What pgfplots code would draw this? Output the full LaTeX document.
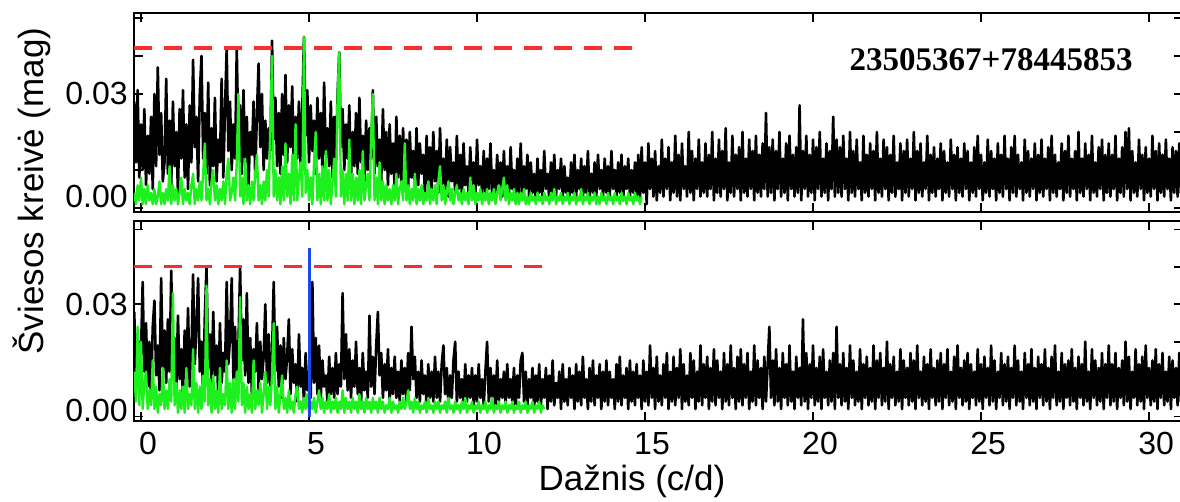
\documentclass[border=0pt]{standalone}
\usepackage{fontspec}
\setmainfont{Liberation Sans}
\newfontfamily\serifb{Liberation Serif}
\usepackage{pgfplots}
\usepackage{pgfplotstable}
\pgfplotsset{compat=1.18}
\definecolor{pgreen}{RGB}{30,240,30}
\definecolor{pred}{RGB}{250,45,45}
\definecolor{pblue}{RGB}{25,75,235}

% amplitude spectra, one value every 0.05 c/d starting at -0.2 c/d
\pgfplotstableread[row sep=\\]{
y\\
0.028\\ 0.012\\ 0.031\\ 0.008\\ 0.022\\ 0.010\\ 0.026\\ 0.006\\ 0.019\\ 0.009\\ 0.024\\ 0.005\\ 0.030\\ 0.011\\ 0.037\\ 0.014\\ 0.025\\ 0.007\\ 0.012\\ 0.034\\
0.009\\ 0.023\\ 0.006\\ 0.028\\ 0.011\\ 0.020\\ 0.004\\ 0.026\\ 0.013\\ 0.031\\ 0.008\\ 0.022\\ 0.005\\ 0.027\\ 0.012\\ 0.039\\ 0.016\\ 0.024\\ 0.007\\ 0.030\\
0.040\\ 0.013\\ 0.025\\ 0.009\\ 0.033\\ 0.006\\ 0.021\\ 0.011\\ 0.029\\ 0.007\\ 0.018\\ 0.012\\ 0.034\\ 0.008\\ 0.026\\ 0.042\\ 0.015\\ 0.028\\ 0.010\\ 0.022\\
0.013\\ 0.042\\ 0.017\\ 0.027\\ 0.009\\ 0.031\\ 0.012\\ 0.024\\ 0.006\\ 0.020\\ 0.014\\ 0.028\\ 0.008\\ 0.025\\ 0.038\\ 0.016\\ 0.030\\ 0.010\\ 0.023\\ 0.013\\
0.021\\ 0.015\\ 0.044\\ 0.018\\ 0.029\\ 0.011\\ 0.025\\ 0.009\\ 0.030\\ 0.014\\ 0.035\\ 0.012\\ 0.027\\ 0.016\\ 0.032\\ 0.010\\ 0.024\\ 0.013\\ 0.028\\ 0.011\\
0.026\\ 0.045\\ 0.019\\ 0.031\\ 0.012\\ 0.027\\ 0.015\\ 0.023\\ 0.009\\ 0.029\\ 0.013\\ 0.025\\ 0.010\\ 0.033\\ 0.014\\ 0.021\\ 0.011\\ 0.028\\ 0.008\\ 0.024\\
0.012\\ 0.030\\ 0.041\\ 0.016\\ 0.026\\ 0.010\\ 0.022\\ 0.013\\ 0.027\\ 0.008\\ 0.020\\ 0.011\\ 0.025\\ 0.009\\ 0.029\\ 0.012\\ 0.019\\ 0.007\\ 0.023\\ 0.010\\
0.021\\ 0.013\\ 0.031\\ 0.009\\ 0.024\\ 0.011\\ 0.018\\ 0.007\\ 0.026\\ 0.010\\ 0.020\\ 0.006\\ 0.022\\ 0.009\\ 0.017\\ 0.005\\ 0.024\\ 0.008\\ 0.019\\ 0.006\\
0.021\\ 0.007\\ 0.018\\ 0.005\\ 0.020\\ 0.008\\ 0.015\\ 0.004\\ 0.021\\ 0.006\\ 0.017\\ 0.009\\ 0.014\\ 0.004\\ 0.019\\ 0.006\\ 0.016\\ 0.005\\ 0.020\\ 0.007\\
0.015\\ 0.004\\ 0.021\\ 0.006\\ 0.013\\ 0.005\\ 0.018\\ 0.003\\ 0.016\\ 0.007\\ 0.012\\ 0.004\\ 0.019\\ 0.005\\ 0.014\\ 0.003\\ 0.017\\ 0.006\\ 0.011\\ 0.004\\
0.016\\ 0.005\\ 0.012\\ 0.003\\ 0.018\\ 0.006\\ 0.011\\ 0.004\\ 0.015\\ 0.003\\ 0.013\\ 0.005\\ 0.017\\ 0.004\\ 0.010\\ 0.003\\ 0.014\\ 0.006\\ 0.012\\ 0.003\\
0.015\\ 0.004\\ 0.011\\ 0.003\\ 0.016\\ 0.005\\ 0.010\\ 0.002\\ 0.013\\ 0.004\\ 0.017\\ 0.003\\ 0.011\\ 0.005\\ 0.014\\ 0.003\\ 0.012\\ 0.004\\ 0.009\\ 0.002\\
0.013\\ 0.004\\ 0.010\\ 0.003\\ 0.015\\ 0.005\\ 0.009\\ 0.002\\ 0.012\\ 0.004\\ 0.014\\ 0.003\\ 0.010\\ 0.005\\ 0.013\\ 0.003\\ 0.011\\ 0.004\\ 0.008\\ 0.002\\
0.012\\ 0.004\\ 0.014\\ 0.003\\ 0.010\\ 0.005\\ 0.013\\ 0.002\\ 0.011\\ 0.004\\ 0.015\\ 0.003\\ 0.009\\ 0.004\\ 0.012\\ 0.003\\ 0.014\\ 0.005\\ 0.010\\ 0.003\\
0.013\\ 0.004\\ 0.011\\ 0.003\\ 0.015\\ 0.005\\ 0.010\\ 0.003\\ 0.012\\ 0.004\\ 0.014\\ 0.002\\ 0.011\\ 0.005\\ 0.013\\ 0.003\\ 0.010\\ 0.004\\ 0.012\\ 0.003\\
0.014\\ 0.002\\ 0.016\\ 0.004\\ 0.012\\ 0.001\\ 0.017\\ 0.005\\ 0.013\\ 0.003\\ 0.015\\ 0.002\\ 0.011\\ 0.004\\ 0.018\\ 0.003\\ 0.013\\ 0.005\\ 0.016\\ 0.002\\
0.012\\ 0.004\\ 0.019\\ 0.003\\ 0.014\\ 0.002\\ 0.017\\ 0.005\\ 0.011\\ 0.003\\ 0.020\\ 0.004\\ 0.015\\ 0.002\\ 0.013\\ 0.005\\ 0.018\\ 0.003\\ 0.012\\ 0.004\\
0.017\\ 0.003\\ 0.014\\ 0.005\\ 0.020\\ 0.002\\ 0.013\\ 0.004\\ 0.018\\ 0.003\\ 0.015\\ 0.005\\ 0.021\\ 0.002\\ 0.012\\ 0.004\\ 0.019\\ 0.003\\ 0.014\\ 0.005\\
0.016\\ 0.002\\ 0.020\\ 0.004\\ 0.013\\ 0.003\\ 0.018\\ 0.005\\ 0.015\\ 0.002\\ 0.019\\ 0.004\\ 0.014\\ 0.003\\ 0.017\\ 0.005\\ 0.025\\ 0.003\\ 0.016\\ 0.004\\
0.018\\ 0.002\\ 0.015\\ 0.005\\ 0.020\\ 0.003\\ 0.013\\ 0.004\\ 0.017\\ 0.002\\ 0.019\\ 0.005\\ 0.014\\ 0.003\\ 0.016\\ 0.004\\ 0.027\\ 0.002\\ 0.015\\ 0.005\\
0.019\\ 0.003\\ 0.014\\ 0.004\\ 0.018\\ 0.002\\ 0.016\\ 0.005\\ 0.020\\ 0.003\\ 0.013\\ 0.004\\ 0.017\\ 0.002\\ 0.015\\ 0.005\\ 0.024\\ 0.003\\ 0.018\\ 0.004\\
0.016\\ 0.003\\ 0.019\\ 0.005\\ 0.013\\ 0.002\\ 0.020\\ 0.004\\ 0.015\\ 0.003\\ 0.018\\ 0.005\\ 0.012\\ 0.002\\ 0.019\\ 0.004\\ 0.014\\ 0.003\\ 0.017\\ 0.005\\
0.015\\ 0.002\\ 0.020\\ 0.004\\ 0.013\\ 0.003\\ 0.018\\ 0.005\\ 0.016\\ 0.002\\ 0.014\\ 0.004\\ 0.019\\ 0.003\\ 0.012\\ 0.005\\ 0.017\\ 0.002\\ 0.015\\ 0.004\\
0.018\\ 0.003\\ 0.013\\ 0.005\\ 0.020\\ 0.002\\ 0.015\\ 0.004\\ 0.017\\ 0.003\\ 0.012\\ 0.005\\ 0.019\\ 0.002\\ 0.014\\ 0.004\\ 0.016\\ 0.003\\ 0.013\\ 0.005\\
0.017\\ 0.002\\ 0.015\\ 0.004\\ 0.012\\ 0.003\\ 0.018\\ 0.005\\ 0.014\\ 0.002\\ 0.016\\ 0.004\\ 0.013\\ 0.003\\ 0.017\\ 0.005\\ 0.015\\ 0.002\\ 0.012\\ 0.004\\
0.016\\ 0.003\\ 0.019\\ 0.005\\ 0.014\\ 0.002\\ 0.012\\ 0.004\\ 0.018\\ 0.003\\ 0.015\\ 0.005\\ 0.013\\ 0.002\\ 0.017\\ 0.004\\ 0.014\\ 0.003\\ 0.019\\ 0.005\\
0.013\\ 0.002\\ 0.016\\ 0.004\\ 0.019\\ 0.003\\ 0.014\\ 0.005\\ 0.012\\ 0.002\\ 0.018\\ 0.004\\ 0.015\\ 0.003\\ 0.013\\ 0.005\\ 0.017\\ 0.002\\ 0.014\\ 0.004\\
0.018\\ 0.003\\ 0.013\\ 0.005\\ 0.016\\ 0.002\\ 0.019\\ 0.004\\ 0.014\\ 0.003\\ 0.012\\ 0.005\\ 0.017\\ 0.002\\ 0.015\\ 0.004\\ 0.019\\ 0.003\\ 0.013\\ 0.005\\
0.015\\ 0.002\\ 0.020\\ 0.004\\ 0.013\\ 0.003\\ 0.017\\ 0.005\\ 0.014\\ 0.002\\ 0.019\\ 0.004\\ 0.012\\ 0.003\\ 0.016\\ 0.005\\ 0.018\\ 0.002\\ 0.014\\ 0.004\\
0.017\\ 0.003\\ 0.014\\ 0.005\\ 0.019\\ 0.002\\ 0.013\\ 0.004\\ 0.016\\ 0.003\\ 0.020\\ 0.005\\ 0.021\\ 0.002\\ 0.015\\ 0.004\\ 0.012\\ 0.003\\ 0.018\\ 0.005\\
0.014\\ 0.002\\ 0.016\\ 0.004\\ 0.013\\ 0.003\\ 0.019\\ 0.005\\ 0.015\\ 0.002\\ 0.017\\ 0.004\\ 0.014\\ 0.003\\ 0.018\\ 0.005\\ 0.013\\ 0.002\\ 0.016\\ 0.004\\
0.015\\ 0.003\\ 0.017\\ 0.004\\ 0.012\\
}\topblack

\pgfplotstableread[row sep=\\]{
y\\
0.004\\ 0.001\\ 0.006\\ 0.002\\ 0.008\\ 0.001\\ 0.005\\ 0.001\\ 0.006\\ 0.002\\ 0.004\\ 0.001\\ 0.005\\ 0.001\\ 0.003\\ 0.007\\ 0.001\\ 0.004\\ 0.001\\ 0.005\\
0.002\\ 0.011\\ 0.001\\ 0.006\\ 0.002\\ 0.005\\ 0.001\\ 0.004\\ 0.008\\ 0.001\\ 0.005\\ 0.002\\ 0.004\\ 0.001\\ 0.006\\ 0.009\\ 0.001\\ 0.005\\ 0.002\\ 0.007\\
0.002\\ 0.009\\ 0.017\\ 0.002\\ 0.005\\ 0.001\\ 0.007\\ 0.010\\ 0.002\\ 0.006\\ 0.001\\ 0.005\\ 0.002\\ 0.007\\ 0.001\\ 0.009\\ 0.013\\ 0.002\\ 0.004\\ 0.008\\
0.002\\ 0.012\\ 0.030\\ 0.003\\ 0.008\\ 0.001\\ 0.013\\ 0.002\\ 0.006\\ 0.001\\ 0.007\\ 0.002\\ 0.009\\ 0.014\\ 0.002\\ 0.006\\ 0.001\\ 0.007\\ 0.002\\ 0.010\\
0.003\\ 0.022\\ 0.040\\ 0.003\\ 0.010\\ 0.002\\ 0.008\\ 0.001\\ 0.011\\ 0.002\\ 0.017\\ 0.003\\ 0.009\\ 0.001\\ 0.014\\ 0.002\\ 0.022\\ 0.002\\ 0.008\\ 0.012\\
0.003\\ 0.045\\ 0.004\\ 0.010\\ 0.002\\ 0.008\\ 0.001\\ 0.012\\ 0.020\\ 0.002\\ 0.009\\ 0.001\\ 0.011\\ 0.002\\ 0.015\\ 0.002\\ 0.010\\ 0.001\\ 0.007\\ 0.013\\
0.003\\ 0.029\\ 0.041\\ 0.003\\ 0.010\\ 0.001\\ 0.009\\ 0.002\\ 0.018\\ 0.002\\ 0.009\\ 0.001\\ 0.008\\ 0.002\\ 0.010\\ 0.001\\ 0.015\\ 0.002\\ 0.006\\ 0.009\\
0.002\\ 0.019\\ 0.030\\ 0.002\\ 0.008\\ 0.001\\ 0.012\\ 0.002\\ 0.007\\ 0.001\\ 0.006\\ 0.002\\ 0.005\\ 0.001\\ 0.006\\ 0.002\\ 0.009\\ 0.001\\ 0.005\\ 0.007\\
0.002\\ 0.017\\ 0.002\\ 0.006\\ 0.001\\ 0.005\\ 0.002\\ 0.009\\ 0.001\\ 0.005\\ 0.002\\ 0.006\\ 0.001\\ 0.004\\ 0.002\\ 0.007\\ 0.001\\ 0.005\\ 0.002\\ 0.006\\
0.001\\ 0.007\\ 0.011\\ 0.002\\ 0.006\\ 0.001\\ 0.004\\ 0.007\\ 0.002\\ 0.005\\ 0.001\\ 0.004\\ 0.006\\ 0.002\\ 0.004\\ 0.001\\ 0.005\\ 0.002\\ 0.004\\ 0.001\\
0.008\\ 0.002\\ 0.006\\ 0.001\\ 0.004\\ 0.002\\ 0.005\\ 0.001\\ 0.004\\ 0.002\\ 0.005\\ 0.001\\ 0.004\\ 0.002\\ 0.005\\ 0.001\\ 0.004\\ 0.006\\ 0.002\\ 0.005\\
0.008\\ 0.002\\ 0.006\\ 0.001\\ 0.004\\ 0.002\\ 0.005\\ 0.001\\ 0.004\\ 0.001\\ 0.004\\ 0.002\\ 0.005\\ 0.001\\ 0.003\\ 0.001\\ 0.004\\ 0.002\\ 0.003\\ 0.001\\
0.004\\ 0.002\\ 0.003\\ 0.001\\ 0.004\\ 0.002\\ 0.003\\ 0.001\\ 0.004\\ 0.002\\ 0.005\\ 0.001\\ 0.003\\ 0.002\\ 0.004\\ 0.001\\ 0.003\\ 0.002\\ 0.004\\ 0.001\\
0.003\\ 0.002\\ 0.004\\ 0.001\\ 0.003\\ 0.002\\ 0.005\\ 0.001\\ 0.003\\ 0.002\\ 0.004\\ 0.001\\ 0.003\\ 0.002\\ 0.004\\ 0.001\\ 0.003\\ 0.001\\ 0.004\\ 0.002\\
0.003\\ 0.001\\ 0.004\\ 0.002\\ 0.003\\ 0.001\\ 0.004\\ 0.002\\ 0.003\\ 0.001\\ 0.004\\ 0.002\\ 0.003\\ 0.001\\ 0.004\\ 0.002\\ 0.003\\ 0.001\\ 0.004\\ 0.002\\
0.003\\ 0.001\\ 0.003\\
}\topgreen

\pgfplotstableread[row sep=\\]{
y\\
0.028\\ 0.010\\ 0.022\\ 0.006\\ 0.017\\ 0.036\\ 0.012\\ 0.025\\ 0.008\\ 0.020\\ 0.005\\ 0.024\\ 0.031\\ 0.011\\ 0.019\\ 0.007\\ 0.037\\ 0.013\\ 0.023\\ 0.009\\
0.026\\ 0.012\\ 0.039\\ 0.015\\ 0.021\\ 0.007\\ 0.027\\ 0.010\\ 0.018\\ 0.005\\ 0.023\\ 0.011\\ 0.029\\ 0.008\\ 0.016\\ 0.038\\ 0.014\\ 0.024\\ 0.037\\ 0.012\\
0.020\\ 0.006\\ 0.027\\ 0.040\\ 0.013\\ 0.022\\ 0.008\\ 0.028\\ 0.011\\ 0.019\\ 0.005\\ 0.025\\ 0.009\\ 0.017\\ 0.012\\ 0.036\\ 0.014\\ 0.021\\ 0.037\\ 0.010\\
0.024\\ 0.008\\ 0.019\\ 0.040\\ 0.015\\ 0.026\\ 0.011\\ 0.033\\ 0.009\\ 0.021\\ 0.006\\ 0.018\\ 0.012\\ 0.025\\ 0.007\\ 0.020\\ 0.010\\ 0.016\\ 0.030\\ 0.009\\
0.022\\ 0.007\\ 0.017\\ 0.036\\ 0.012\\ 0.024\\ 0.008\\ 0.019\\ 0.005\\ 0.021\\ 0.010\\ 0.016\\ 0.026\\ 0.006\\ 0.018\\ 0.009\\ 0.014\\ 0.004\\ 0.022\\ 0.008\\
0.013\\ 0.004\\ 0.017\\ 0.007\\ 0.012\\ 0.005\\ 0.036\\ 0.009\\ 0.021\\ 0.006\\ 0.019\\ 0.005\\ 0.015\\ 0.008\\ 0.011\\ 0.004\\ 0.016\\ 0.006\\ 0.013\\ 0.005\\
0.017\\ 0.006\\ 0.014\\ 0.008\\ 0.033\\ 0.010\\ 0.022\\ 0.007\\ 0.018\\ 0.005\\ 0.015\\ 0.008\\ 0.020\\ 0.006\\ 0.013\\ 0.004\\ 0.017\\ 0.007\\ 0.012\\ 0.005\\
0.027\\ 0.008\\ 0.016\\ 0.006\\ 0.019\\ 0.028\\ 0.011\\ 0.017\\ 0.005\\ 0.014\\ 0.007\\ 0.018\\ 0.004\\ 0.013\\ 0.006\\ 0.016\\ 0.005\\ 0.012\\ 0.004\\ 0.015\\
0.006\\ 0.013\\ 0.004\\ 0.017\\ 0.007\\ 0.024\\ 0.010\\ 0.016\\ 0.005\\ 0.012\\ 0.004\\ 0.015\\ 0.006\\ 0.011\\ 0.003\\ 0.014\\ 0.005\\ 0.012\\ 0.004\\ 0.016\\
0.005\\ 0.012\\ 0.004\\ 0.014\\ 0.019\\ 0.006\\ 0.013\\ 0.003\\ 0.011\\ 0.005\\ 0.015\\ 0.020\\ 0.004\\ 0.012\\ 0.005\\ 0.010\\ 0.003\\ 0.014\\ 0.004\\ 0.011\\
0.005\\ 0.013\\ 0.003\\ 0.011\\ 0.004\\ 0.014\\ 0.005\\ 0.010\\ 0.003\\ 0.012\\ 0.020\\ 0.004\\ 0.013\\ 0.005\\ 0.011\\ 0.003\\ 0.015\\ 0.004\\ 0.010\\ 0.005\\
0.012\\ 0.003\\ 0.014\\ 0.005\\ 0.010\\ 0.004\\ 0.013\\ 0.002\\ 0.011\\ 0.005\\ 0.015\\ 0.017\\ 0.004\\ 0.012\\ 0.003\\ 0.010\\ 0.005\\ 0.013\\ 0.002\\ 0.011\\
0.004\\ 0.014\\ 0.003\\ 0.010\\ 0.005\\ 0.013\\ 0.002\\ 0.011\\ 0.004\\ 0.015\\ 0.003\\ 0.009\\ 0.005\\ 0.012\\ 0.002\\ 0.014\\ 0.004\\ 0.010\\ 0.003\\ 0.013\\
0.005\\ 0.011\\ 0.002\\ 0.014\\ 0.004\\ 0.012\\ 0.003\\ 0.016\\ 0.005\\ 0.010\\ 0.002\\ 0.013\\ 0.004\\ 0.015\\ 0.003\\ 0.011\\ 0.005\\ 0.014\\ 0.002\\ 0.012\\
0.004\\ 0.015\\ 0.003\\ 0.012\\ 0.005\\ 0.010\\ 0.002\\ 0.014\\ 0.004\\ 0.016\\ 0.003\\ 0.011\\ 0.005\\ 0.013\\ 0.002\\ 0.015\\ 0.004\\ 0.012\\ 0.003\\ 0.014\\
0.005\\ 0.011\\ 0.002\\ 0.015\\ 0.004\\ 0.012\\ 0.003\\ 0.019\\ 0.005\\ 0.013\\ 0.002\\ 0.016\\ 0.004\\ 0.011\\ 0.003\\ 0.014\\ 0.005\\ 0.017\\ 0.002\\ 0.012\\
0.004\\ 0.016\\ 0.003\\ 0.013\\ 0.005\\ 0.018\\ 0.002\\ 0.014\\ 0.004\\ 0.011\\ 0.003\\ 0.017\\ 0.005\\ 0.015\\ 0.002\\ 0.012\\ 0.004\\ 0.019\\ 0.003\\ 0.014\\
0.005\\ 0.016\\ 0.002\\ 0.013\\ 0.004\\ 0.018\\ 0.003\\ 0.015\\ 0.005\\ 0.012\\ 0.002\\ 0.017\\ 0.004\\ 0.014\\ 0.003\\ 0.019\\ 0.005\\ 0.013\\ 0.002\\ 0.016\\
0.004\\ 0.018\\ 0.003\\ 0.014\\ 0.005\\ 0.017\\ 0.002\\ 0.012\\ 0.004\\ 0.019\\ 0.003\\ 0.015\\ 0.005\\ 0.013\\ 0.002\\ 0.016\\ 0.004\\ 0.014\\ 0.024\\ 0.005\\
0.015\\ 0.003\\ 0.018\\ 0.004\\ 0.013\\ 0.002\\ 0.017\\ 0.005\\ 0.014\\ 0.003\\ 0.019\\ 0.004\\ 0.012\\ 0.002\\ 0.016\\ 0.005\\ 0.013\\ 0.003\\ 0.026\\ 0.004\\
0.017\\ 0.002\\ 0.014\\ 0.005\\ 0.019\\ 0.003\\ 0.013\\ 0.004\\ 0.016\\ 0.002\\ 0.018\\ 0.005\\ 0.012\\ 0.003\\ 0.015\\ 0.004\\ 0.017\\ 0.002\\ 0.024\\ 0.005\\
0.014\\ 0.003\\ 0.017\\ 0.004\\ 0.013\\ 0.002\\ 0.019\\ 0.005\\ 0.015\\ 0.003\\ 0.012\\ 0.004\\ 0.018\\ 0.002\\ 0.014\\ 0.005\\ 0.016\\ 0.003\\ 0.013\\ 0.004\\
0.019\\ 0.002\\ 0.015\\ 0.005\\ 0.017\\ 0.003\\ 0.013\\ 0.004\\ 0.020\\ 0.002\\ 0.014\\ 0.005\\ 0.016\\ 0.003\\ 0.012\\ 0.004\\ 0.018\\ 0.002\\ 0.015\\ 0.005\\
0.013\\ 0.003\\ 0.017\\ 0.004\\ 0.015\\ 0.002\\ 0.019\\ 0.005\\ 0.012\\ 0.003\\ 0.016\\ 0.004\\ 0.014\\ 0.002\\ 0.018\\ 0.005\\ 0.013\\ 0.003\\ 0.015\\ 0.004\\
0.017\\ 0.002\\ 0.014\\ 0.005\\ 0.018\\ 0.003\\ 0.012\\ 0.004\\ 0.016\\ 0.002\\ 0.019\\ 0.005\\ 0.013\\ 0.003\\ 0.015\\ 0.004\\ 0.017\\ 0.002\\ 0.014\\ 0.005\\
0.012\\ 0.003\\ 0.018\\ 0.004\\ 0.014\\ 0.002\\ 0.016\\ 0.005\\ 0.013\\ 0.003\\ 0.019\\ 0.004\\ 0.015\\ 0.002\\ 0.012\\ 0.005\\ 0.017\\ 0.003\\ 0.014\\ 0.004\\
0.016\\ 0.002\\ 0.013\\ 0.005\\ 0.019\\ 0.003\\ 0.015\\ 0.004\\ 0.012\\ 0.002\\ 0.017\\ 0.005\\ 0.014\\ 0.003\\ 0.018\\ 0.004\\ 0.013\\ 0.002\\ 0.016\\ 0.005\\
0.014\\ 0.003\\ 0.018\\ 0.004\\ 0.013\\ 0.002\\ 0.016\\ 0.005\\ 0.019\\ 0.003\\ 0.012\\ 0.004\\ 0.017\\ 0.002\\ 0.014\\ 0.005\\ 0.015\\ 0.003\\ 0.018\\ 0.004\\
0.013\\ 0.002\\ 0.016\\ 0.005\\ 0.014\\ 0.003\\ 0.020\\ 0.004\\ 0.012\\ 0.002\\ 0.018\\ 0.005\\ 0.015\\ 0.003\\ 0.013\\ 0.004\\ 0.017\\ 0.002\\ 0.014\\ 0.005\\
0.019\\ 0.003\\ 0.014\\ 0.004\\ 0.017\\ 0.002\\ 0.013\\ 0.005\\ 0.015\\ 0.003\\ 0.020\\ 0.004\\ 0.016\\ 0.002\\ 0.012\\ 0.005\\ 0.018\\ 0.003\\ 0.014\\ 0.004\\
0.016\\ 0.002\\ 0.019\\ 0.005\\ 0.013\\ 0.003\\ 0.015\\ 0.004\\ 0.018\\ 0.002\\ 0.014\\ 0.005\\ 0.017\\ 0.003\\ 0.012\\ 0.004\\ 0.016\\ 0.002\\ 0.015\\ 0.005\\
0.013\\ 0.003\\ 0.017\\ 0.004\\ 0.014\\
}\botblack

\pgfplotstableread[row sep=\\]{
y\\
0.012\\ 0.004\\ 0.024\\ 0.003\\ 0.020\\ 0.002\\ 0.009\\ 0.012\\ 0.002\\ 0.007\\ 0.003\\ 0.015\\ 0.002\\ 0.008\\ 0.001\\ 0.006\\ 0.003\\ 0.013\\ 0.002\\ 0.007\\
0.002\\ 0.010\\ 0.004\\ 0.033\\ 0.003\\ 0.009\\ 0.001\\ 0.007\\ 0.002\\ 0.008\\ 0.001\\ 0.013\\ 0.002\\ 0.006\\ 0.003\\ 0.018\\ 0.002\\ 0.009\\ 0.001\\ 0.008\\
0.002\\ 0.011\\ 0.004\\ 0.035\\ 0.003\\ 0.010\\ 0.001\\ 0.011\\ 0.002\\ 0.007\\ 0.001\\ 0.013\\ 0.002\\ 0.006\\ 0.003\\ 0.015\\ 0.002\\ 0.009\\ 0.001\\ 0.010\\
0.002\\ 0.012\\ 0.004\\ 0.032\\ 0.003\\ 0.009\\ 0.001\\ 0.008\\ 0.002\\ 0.006\\ 0.001\\ 0.015\\ 0.002\\ 0.007\\ 0.003\\ 0.009\\ 0.001\\ 0.006\\ 0.012\\ 0.002\\
0.008\\ 0.003\\ 0.011\\ 0.025\\ 0.002\\ 0.008\\ 0.001\\ 0.006\\ 0.011\\ 0.002\\ 0.005\\ 0.001\\ 0.007\\ 0.002\\ 0.004\\ 0.001\\ 0.006\\ 0.008\\ 0.002\\ 0.004\\
0.001\\ 0.005\\ 0.002\\ 0.006\\ 0.001\\ 0.004\\ 0.002\\ 0.005\\ 0.001\\ 0.004\\ 0.007\\ 0.002\\ 0.005\\ 0.001\\ 0.004\\ 0.002\\ 0.006\\ 0.001\\ 0.004\\ 0.002\\
0.005\\ 0.001\\ 0.004\\ 0.002\\ 0.007\\ 0.001\\ 0.005\\ 0.002\\ 0.004\\ 0.001\\ 0.005\\ 0.002\\ 0.004\\ 0.001\\ 0.006\\ 0.002\\ 0.004\\ 0.001\\ 0.005\\ 0.002\\
0.004\\ 0.001\\ 0.005\\ 0.002\\ 0.004\\ 0.001\\ 0.005\\ 0.002\\ 0.004\\ 0.001\\ 0.003\\ 0.002\\ 0.005\\ 0.001\\ 0.004\\ 0.002\\ 0.003\\ 0.001\\ 0.004\\ 0.002\\
0.005\\ 0.002\\ 0.004\\ 0.007\\ 0.002\\ 0.004\\ 0.001\\ 0.005\\ 0.002\\ 0.004\\ 0.001\\ 0.003\\ 0.002\\ 0.004\\ 0.001\\ 0.005\\ 0.002\\ 0.003\\ 0.001\\ 0.004\\
0.002\\ 0.004\\ 0.001\\ 0.003\\ 0.002\\ 0.004\\ 0.001\\ 0.005\\ 0.002\\ 0.003\\ 0.001\\ 0.004\\ 0.002\\ 0.003\\ 0.001\\ 0.004\\ 0.002\\ 0.005\\ 0.001\\ 0.003\\
0.002\\ 0.004\\ 0.001\\ 0.003\\ 0.002\\ 0.004\\ 0.001\\ 0.003\\ 0.002\\ 0.004\\ 0.001\\ 0.003\\ 0.002\\ 0.005\\ 0.001\\ 0.003\\ 0.002\\ 0.004\\ 0.001\\ 0.003\\
0.002\\ 0.004\\ 0.001\\ 0.003\\ 0.002\\ 0.004\\ 0.001\\ 0.003\\ 0.002\\ 0.004\\ 0.001\\ 0.003\\ 0.002\\ 0.004\\ 0.001\\ 0.003\\ 0.002\\ 0.004\\ 0.001\\ 0.003\\
0.002\\ 0.004\\ 0.001\\ 0.003\\ 0.002\\
}\botgreen

\begin{document}
\begin{tikzpicture}
\pgfplotsset{
  panel/.style={
    scale only axis, width=524.5pt,
    xmin=-0.208, xmax=31.01,
    axis line style={line width=1pt},
    every tick/.style={line width=0.9pt, black},
    major tick length=4.5pt, tick align=inside,
    xtick={0,5,10,15,20,25,30},
    ytick={0,0.01,0.02,0.03,0.04,0.05},
    yticklabels={,,,0.03,,},
    scaled y ticks=false,
    tick label style={font=\fontsize{16}{18}\selectfont},
    yticklabel style={inner sep=0pt, xshift=-3pt},
    extra y tick style={major tick length=0pt},
    extra y tick labels={0.00},
  },
  blkline/.style={draw=black, line width=1.3pt, line join=round},
  grnline/.style={draw=pgreen, line width=1.2pt, line join=round},
}
% top panel
\begin{axis}[panel, at={(67pt,-6.5pt)}, anchor=north west, height=99.5pt,
  ymin=-0.00105, ymax=0.0513, xticklabels={},
  extra y ticks={0.0029}]
\addplot[blkline] table[x expr={-0.2+0.05*\coordindex}, y=y]{\topblack};
\addplot[grnline] table[x expr={-0.2+0.05*\coordindex}, y=y]{\topgreen};
\addplot[draw=pred, line width=1.6pt, dash pattern=on 9pt off 6pt] coordinates {(-0.208,0.0421) (14.65,0.0421)};
\node[font=\serifb\bfseries\fontsize{16.5}{18}\selectfont] at (axis cs:25.3,0.039) {23505367+78445853};
\end{axis}
% bottom panel
\begin{axis}[panel, at={(67pt,-110.5pt)}, anchor=north west, height=100pt,
  ymin=-0.0012, ymax=0.0523,
  xticklabels={0,5,10,15,20,25,30},
  xticklabel style={inner sep=0pt, anchor=north, yshift=-5.5pt, xshift=3.5pt},
  extra y ticks={0.0016}]
\addplot[blkline] table[x expr={-0.2+0.05*\coordindex}, y=y]{\botblack};
\addplot[grnline] table[x expr={-0.2+0.05*\coordindex}, y=y]{\botgreen};
\addplot[draw=pred, line width=1.6pt, dash pattern=on 9pt off 6pt] coordinates {(-0.208,0.0402) (11.96,0.0402)};
\addplot[draw=pblue, line width=1.5pt] coordinates {(5.0,0) (5.0,0.045)};
\end{axis}
\node[rotate=90, font=\fontsize{17.5}{20}\selectfont] at (16pt,-95.5pt) {Šviesos kreivė (mag)};
\node[font=\fontsize{17.5}{20}\selectfont] at (316pt,-240.5pt) {Dažnis (c/d)};
\pgfresetboundingbox
\path[use as bounding box] (0pt,0pt) rectangle (590pt,-251pt);
\end{tikzpicture}
\end{document}
